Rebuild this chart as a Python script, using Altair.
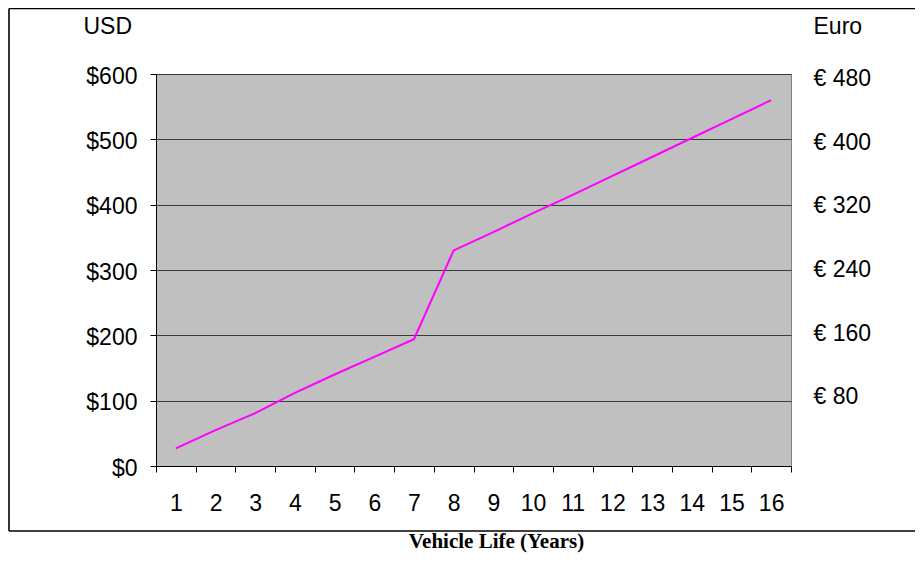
import altair as alt
import pandas as pd

years = list(range(1, 17))
usd = [27, 55, 81, 112, 140, 167, 194, 330, 358, 387, 415, 444, 473, 502, 531, 560]
usd_ticks = [0, 100, 200, 300, 400, 500, 600]
eur_ticks = [80, 160, 240, 320, 400, 480]

df = pd.DataFrame({"year": years, "usd": usd})
eur_df = pd.DataFrame({"eur": eur_ticks})
one = pd.DataFrame({"a": [0]})

FONT = "Liberation Sans"

line = alt.Chart(df).mark_line(color="#FF00FF", strokeWidth=2).encode(
    x=alt.X(
        "year:O",
        sort=years,
        bandPosition=0.5,
        scale=alt.Scale(type="band", paddingInner=0, paddingOuter=0),
        axis=alt.Axis(
            labelAngle=0,
            tickBand="extent",
            labelFont=FONT,
            labelFontSize=23,
            labelColor="black",
            labelPadding=20,
            tickSize=6,
            tickColor="black",
            domainColor="black",
            grid=False,
            title="Vehicle Life (Years)",
            titleFont="Liberation Serif",
            titleFontSize=21,
            titleFontWeight="bold",
            titleColor="black",
            titleX=340,
            titleY=75,
            titleAlign="center",
            titleBaseline="middle",
        ),
    ),
    y=alt.Y(
        "usd:Q",
        scale=alt.Scale(domain=[0, 600], nice=False),
        axis=alt.Axis(
            values=usd_ticks,
            labelExpr="'$' + datum.value",
            labelFont=FONT,
            labelFontSize=23,
            labelColor="black",
            labelPadding=13,
            labelOffset=2,
            tickSize=6,
            tickColor="black",
            domainColor="black",
            grid=True,
            gridColor="#3a3a3a",
            gridWidth=1,
            title="USD",
            titleFont=FONT,
            titleFontSize=23,
            titleFontWeight="normal",
            titleColor="black",
            titleAngle=0,
            titleX=-73,
            titleY=-48,
            titleAlign="left",
            titleBaseline="middle",
        ),
    ),
)

right = alt.Chart(eur_df).mark_point(opacity=0).encode(
    y=alt.Y(
        "eur:Q",
        scale=alt.Scale(domain=[-7, 486], nice=False),
        axis=alt.Axis(
            orient="right",
            values=eur_ticks,
            labelExpr="'€ ' + datum.value",
            labelFont=FONT,
            labelFontSize=23,
            labelColor="black",
            labelAlign="left",
            labelPadding=22,
            ticks=False,
            tickSize=0,
            domain=False,
            grid=False,
            title="Euro",
            titleFont=FONT,
            titleFontSize=23,
            titleFontWeight="normal",
            titleColor="black",
            titleAngle=0,
            titleX=22,
            titleY=-48,
            titleAlign="left",
            titleBaseline="middle",
        ),
    ),
)

frame_left = alt.Chart(one).mark_rule(color="black", strokeWidth=1.6).encode(
    x=alt.value(-147), y=alt.value(-65.5), y2=alt.value(457)
)
frame_top = alt.Chart(one).mark_rule(color="black", strokeWidth=1.6).encode(
    x=alt.value(-147), x2=alt.value(760), y=alt.value(-65.5)
)
frame_bottom = alt.Chart(one).mark_rule(color="black", strokeWidth=1.6).encode(
    x=alt.value(-147), x2=alt.value(760), y=alt.value(457)
)

chart = (
    alt.layer(line, right, frame_left, frame_top, frame_bottom)
    .resolve_scale(y="independent")
    .properties(
        width=635,
        height=392,
        padding={"left": 148, "top": 66, "right": 124, "bottom": 102},
        autosize=alt.AutoSizeParams(type="none"),
        background="white",
    )
    .configure_view(fill="#C0C0C0", stroke="#808080", strokeWidth=1)
)

chart.save("out.html", embed_options={"renderer": "svg", "actions": False})
